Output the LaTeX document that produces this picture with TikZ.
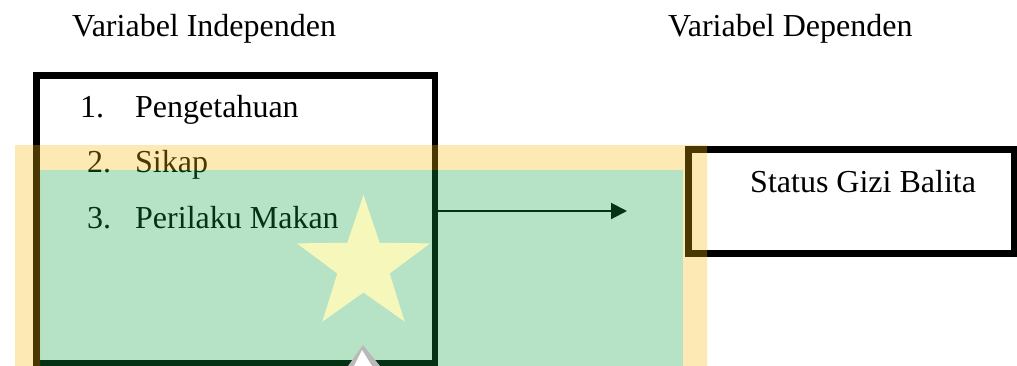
\documentclass[tikz,border=0pt]{standalone}
\usepackage{fontspec}
\setmainfont{Liberation Serif}
\usetikzlibrary{arrows.meta}
\definecolor{washgreen}{rgb}{0.065,0.63,0.27}
\definecolor{washyellow}{rgb}{0.96,0.72,0.04}
\definecolor{starfill}{rgb}{0.965,0.968,0.735}
\tikzset{
  lbl/.style={anchor=base west, inner sep=0pt, font=\fontsize{32}{38}\selectfont},
  frame/.style={draw=black, line width=6.5pt, inner sep=0pt},
  link/.style={line width=2pt, -{Triangle[length=16pt,width=16pt]}}
}
\begin{document}
\begin{tikzpicture}[x=1pt, y=-1pt]
\useasboundingbox (0,0) rectangle (1017,365);

% headings
\node[lbl] (hIndep) at (72,36) {Variabel Independen};
\node[lbl] (hDep) at (668,36) {Variabel Dependen};

% independent variables box
\node[frame, minimum width=398.5pt, minimum height=288pt] (indep) at (235.75,219.5) {};
\node[lbl] (n1) at (80,117) {1.};
\node[lbl] (i1) at (135,117) {Pengetahuan};
\node[lbl] (n2) at (87,172) {2.};
\node[lbl] (i2) at (135,172) {Sikap};
\node[lbl] (n3) at (87,228) {3.};
\node[lbl] (i3) at (135,228) {Perilaku Makan};

% dependent variable box
\node[frame, minimum width=326pt, minimum height=104pt] (dep) at (851.5,201.5) {};
\node[lbl] (o1) at (750,192) {Status Gizi Balita};

% connector
\coordinate (tipend) at (627,211);
\draw[link] (indep.east |- tipend) -- (tipend);

% translucent emblem behind the frame
\fill[washyellow, opacity=0.306, even odd rule]
  (15,145) rectangle (707,370) (40,170) rectangle (683,370);
\fill[washgreen, opacity=0.306] (40,170) rectangle (683,370);

% star
\fill[starfill]
  \foreach \k in {0,...,4} {
    [shift={(363.5,265)}]
    \ifnum\k=0 (270:70) \else -- (270+72*\k:70) \fi
    -- (306+72*\k:27.5)
  } -- cycle;

% small white peak at the bottom
\fill[gray!55] (363,345) -- (380,366) -- (348,366) -- cycle;
\fill[white] (362,350) -- (372,366) -- (354,366) -- cycle;
\end{tikzpicture}
\end{document}
